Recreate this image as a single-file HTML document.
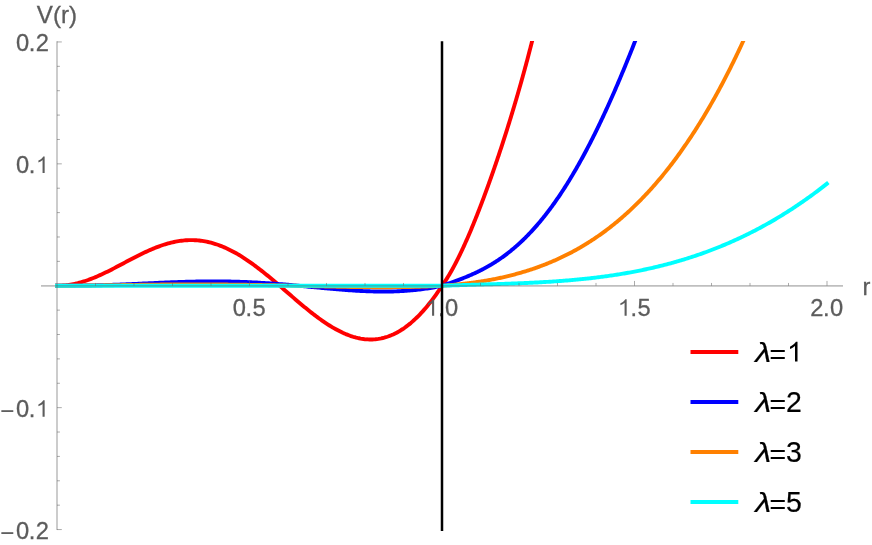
<!DOCTYPE html>
<html><head><meta charset="utf-8"><title>V(r)</title>
<style>html,body{margin:0;padding:0;background:#fff;}svg{display:block;will-change:transform;}</style></head>
<body>
<svg width="872" height="545" viewBox="0 0 872 545">
<defs><clipPath id="c"><rect x="40" y="41" width="805" height="489"/></clipPath></defs>
<g clip-path="url(#c)" fill="none" stroke-width="3.9" stroke-linejoin="round" stroke-linecap="butt">
<path d="M55.10 285.75 L58.54 285.74 L60.02 285.70 L61.50 285.63 L62.98 285.53 L64.46 285.41 L65.94 285.27 L67.42 285.09 L68.90 284.89 L70.38 284.66 L71.86 284.41 L73.35 284.13 L74.83 283.82 L76.31 283.49 L77.79 283.14 L79.27 282.75 L80.75 282.35 L82.23 281.92 L83.71 281.47 L85.19 280.99 L86.67 280.50 L88.15 279.98 L89.63 279.44 L91.11 278.88 L92.59 278.30 L94.07 277.71 L95.55 277.09 L97.03 276.46 L98.51 275.81 L100.00 275.15 L101.48 274.47 L102.96 273.78 L104.44 273.08 L105.92 272.36 L107.40 271.63 L108.88 270.90 L110.36 270.15 L111.84 269.40 L113.32 268.63 L114.80 267.86 L116.28 267.09 L117.76 266.31 L119.24 265.53 L120.72 264.74 L122.20 263.96 L123.68 263.17 L125.16 262.38 L126.64 261.59 L128.13 260.81 L129.61 260.02 L131.09 259.24 L132.57 258.47 L134.05 257.70 L135.53 256.94 L137.01 256.18 L138.49 255.44 L139.97 254.70 L141.45 253.97 L142.93 253.25 L144.41 252.55 L145.89 251.86 L147.37 251.17 L148.85 250.51 L150.33 249.86 L151.81 249.22 L153.29 248.60 L154.78 248.00 L156.26 247.41 L157.74 246.84 L159.22 246.30 L160.70 245.77 L162.18 245.26 L163.66 244.77 L165.14 244.31 L166.62 243.86 L168.10 243.44 L169.58 243.04 L171.06 242.67 L172.54 242.32 L174.02 241.99 L175.50 241.69 L176.98 241.41 L178.46 241.16 L179.94 240.94 L181.42 240.74 L182.91 240.57 L184.39 240.43 L185.87 240.31 L187.35 240.22 L188.83 240.16 L190.31 240.13 L191.79 240.13 L193.27 240.16 L194.75 240.21 L196.23 240.29 L197.71 240.41 L199.19 240.55 L200.67 240.72 L202.15 240.92 L203.63 241.14 L205.11 241.40 L206.59 241.69 L208.07 242.01 L209.56 242.35 L211.04 242.73 L212.52 243.13 L214.00 243.56 L215.48 244.02 L216.96 244.51 L218.44 245.03 L219.92 245.57 L221.40 246.14 L222.88 246.74 L224.36 247.37 L225.84 248.02 L227.32 248.70 L228.80 249.41 L230.28 250.14 L231.76 250.90 L233.24 251.68 L234.72 252.49 L236.20 253.32 L237.69 254.17 L239.17 255.05 L240.65 255.95 L242.13 256.88 L243.61 257.82 L245.09 258.78 L246.57 259.77 L248.05 260.78 L249.53 261.80 L251.01 262.85 L252.49 263.91 L253.97 264.99 L255.45 266.08 L256.93 267.20 L258.41 268.33 L259.89 269.47 L261.37 270.63 L262.85 271.80 L264.34 272.98 L265.82 274.18 L267.30 275.38 L268.78 276.60 L270.26 277.83 L271.74 279.06 L273.22 280.31 L274.70 281.56 L276.18 282.82 L277.66 284.08 L279.14 285.35 L280.62 286.62 L282.10 287.90 L283.58 289.18 L285.06 290.46 L286.54 291.74 L288.02 293.02 L289.50 294.31 L290.98 295.58 L292.47 296.86 L293.95 298.14 L295.43 299.40 L296.91 300.67 L298.39 301.93 L299.87 303.18 L301.35 304.42 L302.83 305.66 L304.31 306.89 L305.79 308.10 L307.27 309.31 L308.75 310.50 L310.23 311.68 L311.71 312.85 L313.19 314.00 L314.67 315.14 L316.15 316.26 L317.63 317.36 L319.12 318.45 L320.60 319.52 L322.08 320.57 L323.56 321.60 L325.04 322.60 L326.52 323.59 L328.00 324.55 L329.48 325.49 L330.96 326.41 L332.44 327.30 L333.92 328.16 L335.40 329.00 L336.88 329.82 L338.36 330.60 L339.84 331.35 L341.32 332.08 L342.80 332.78 L344.28 333.44 L345.76 334.08 L347.25 334.68 L348.73 335.25 L350.21 335.79 L351.69 336.29 L353.17 336.76 L354.65 337.19 L356.13 337.59 L357.61 337.95 L359.09 338.27 L360.57 338.56 L362.05 338.81 L363.53 339.02 L365.01 339.19 L366.49 339.32 L367.97 339.41 L369.45 339.46 L370.93 339.47 L372.41 339.44 L373.90 339.36 L375.38 339.25 L376.86 339.09 L378.34 338.89 L379.82 338.64 L381.30 338.35 L382.78 338.02 L384.26 337.64 L385.74 337.22 L387.22 336.75 L388.70 336.24 L390.18 335.68 L391.66 335.07 L393.14 334.42 L394.62 333.72 L396.10 332.98 L397.58 332.18 L399.06 331.34 L400.54 330.46 L402.03 329.52 L403.51 328.54 L404.99 327.51 L406.47 326.43 L407.95 325.30 L409.43 324.12 L410.91 322.90 L412.39 321.62 L413.87 320.30 L415.35 318.93 L416.83 317.51 L418.31 316.04 L419.79 314.52 L421.27 312.95 L422.75 311.33 L424.23 309.66 L425.71 307.94 L427.19 306.17 L428.68 304.36 L430.16 302.49 L431.64 300.57 L433.12 298.61 L434.60 296.59 L436.08 294.52 L437.56 292.40 L439.04 290.24 L440.52 288.02 L442.00 285.75 L442.32 285.31 L442.64 284.87 L442.97 284.42 L443.29 283.96 L443.61 283.50 L443.93 283.04 L444.25 282.57 L444.58 282.09 L444.90 281.62 L445.22 281.13 L445.54 280.64 L445.86 280.15 L446.18 279.65 L446.51 279.15 L446.83 278.65 L447.15 278.13 L447.47 277.62 L447.79 277.10 L448.12 276.57 L448.44 276.05 L448.76 275.51 L449.08 274.98 L449.40 274.43 L449.73 273.89 L450.05 273.34 L450.37 272.78 L450.69 272.22 L451.01 271.66 L451.34 271.10 L451.66 270.52 L451.98 269.95 L452.30 269.37 L452.62 268.79 L452.94 268.20 L453.27 267.61 L453.59 267.02 L453.91 266.42 L454.23 265.82 L454.55 265.21 L454.88 264.60 L455.20 263.99 L455.52 263.37 L455.84 262.75 L456.16 262.13 L456.49 261.50 L456.81 260.87 L457.13 260.23 L457.45 259.59 L457.77 258.95 L458.10 258.30 L458.42 257.66 L458.74 257.00 L459.06 256.35 L459.38 255.69 L459.70 255.03 L460.03 254.36 L460.35 253.69 L460.67 253.02 L460.99 252.34 L461.31 251.66 L461.64 250.98 L461.96 250.30 L462.28 249.61 L462.60 248.92 L462.92 248.22 L463.25 247.52 L463.57 246.82 L463.89 246.12 L464.21 245.41 L464.53 244.70 L464.86 243.99 L465.18 243.27 L465.50 242.55 L465.82 241.83 L466.14 241.11 L466.46 240.38 L466.79 239.65 L467.11 238.91 L467.43 238.18 L467.75 237.44 L468.07 236.70 L468.40 235.95 L468.72 235.21 L469.04 234.46 L469.36 233.70 L469.68 232.95 L470.01 232.19 L470.33 231.43 L470.65 230.66 L470.97 229.90 L471.29 229.13 L471.62 228.36 L471.94 227.58 L472.26 226.81 L472.58 226.03 L472.90 225.25 L473.22 224.46 L473.55 223.68 L473.87 222.89 L474.19 222.10 L474.51 221.30 L474.83 220.50 L475.16 219.71 L475.48 218.90 L475.80 218.10 L476.12 217.29 L476.44 216.48 L476.77 215.67 L477.09 214.86 L477.41 214.04 L477.73 213.23 L478.05 212.41 L478.38 211.58 L478.70 210.76 L479.02 209.93 L479.34 209.10 L479.66 208.27 L479.98 207.43 L480.31 206.60 L480.63 205.76 L480.95 204.92 L481.27 204.07 L481.59 203.23 L481.92 202.38 L482.24 201.53 L482.56 200.68 L482.88 199.82 L483.20 198.96 L483.53 198.11 L483.85 197.24 L484.17 196.38 L484.49 195.51 L484.81 194.65 L485.14 193.78 L485.46 192.90 L485.78 192.03 L486.10 191.15 L486.42 190.28 L486.74 189.39 L487.07 188.51 L487.39 187.63 L487.71 186.74 L488.03 185.85 L488.35 184.96 L488.68 184.06 L489.00 183.17 L489.32 182.27 L489.64 181.37 L489.96 180.47 L490.29 179.56 L490.61 178.66 L490.93 177.75 L491.25 176.84 L491.57 175.92 L491.90 175.01 L492.22 174.09 L492.54 173.17 L492.86 172.25 L493.18 171.33 L493.51 170.40 L493.83 169.47 L494.15 168.54 L494.47 167.61 L494.79 166.68 L495.11 165.74 L495.44 164.80 L495.76 163.86 L496.08 162.92 L496.40 161.97 L496.72 161.03 L497.05 160.08 L497.37 159.13 L497.69 158.17 L498.01 157.22 L498.33 156.26 L498.66 155.30 L498.98 154.34 L499.30 153.37 L499.62 152.40 L499.94 151.44 L500.27 150.46 L500.59 149.49 L500.91 148.52 L501.23 147.54 L501.55 146.56 L501.87 145.57 L502.20 144.59 L502.52 143.60 L502.84 142.61 L503.16 141.62 L503.48 140.63 L503.81 139.63 L504.13 138.63 L504.45 137.63 L504.77 136.63 L505.09 135.62 L505.42 134.61 L505.74 133.60 L506.06 132.59 L506.38 131.58 L506.70 130.56 L507.03 129.54 L507.35 128.52 L507.67 127.49 L507.99 126.46 L508.31 125.43 L508.63 124.40 L508.96 123.37 L509.28 122.33 L509.60 121.29 L509.92 120.25 L510.24 119.20 L510.57 118.15 L510.89 117.10 L511.21 116.05 L511.53 114.99 L511.85 113.94 L512.18 112.88 L512.50 111.81 L512.82 110.75 L513.14 109.68 L513.46 108.61 L513.79 107.53 L514.11 106.45 L514.43 105.37 L514.75 104.29 L515.07 103.21 L515.39 102.12 L515.72 101.03 L516.04 99.93 L516.36 98.84 L516.68 97.74 L517.00 96.63 L517.33 95.53 L517.65 94.42 L517.97 93.31 L518.29 92.19 L518.61 91.08 L518.94 89.96 L519.26 88.83 L519.58 87.70 L519.90 86.57 L520.22 85.44 L520.55 84.30 L520.87 83.17 L521.19 82.02 L521.51 80.88 L521.83 79.73 L522.15 78.58 L522.48 77.42 L522.80 76.26 L523.12 75.10 L523.44 73.93 L523.76 72.76 L524.09 71.59 L524.41 70.41 L524.73 69.23 L525.05 68.05 L525.37 66.86 L525.70 65.67 L526.02 64.48 L526.34 63.28 L526.66 62.08 L526.98 60.88 L527.31 59.67 L527.63 58.46 L527.95 57.24 L528.27 56.02 L528.59 54.80 L528.91 53.57 L529.24 52.34 L529.56 51.10 L529.88 49.86 L530.20 48.62 L530.52 47.37 L530.85 46.12 L531.17 44.87 L531.49 43.61 L531.81 42.35 L532.13 41.08 L532.46 39.81 L532.78 38.53 L533.10 37.25 L533.42 35.97 L533.74 34.68 L534.07 33.38 L534.39 32.09 L534.71 30.78 L535.03 29.48 L535.35 28.17 L535.67 26.85 L536.00 25.53 L536.32 24.21 L536.64 22.88 L536.96 21.54 L537.28 20.21 L537.61 18.86 L537.93 17.51 L538.25 16.16" stroke="#ff0000"/>
<path d="M55.10 285.75 L58.54 285.75 L60.02 285.75 L61.50 285.75 L62.98 285.74 L64.46 285.74 L65.94 285.74 L67.42 285.73 L68.90 285.72 L70.38 285.72 L71.86 285.71 L73.35 285.70 L74.83 285.68 L76.31 285.67 L77.79 285.66 L79.27 285.64 L80.75 285.62 L82.23 285.60 L83.71 285.58 L85.19 285.56 L86.67 285.53 L88.15 285.51 L89.63 285.48 L91.11 285.45 L92.59 285.42 L94.07 285.39 L95.55 285.35 L97.03 285.31 L98.51 285.28 L100.00 285.24 L101.48 285.20 L102.96 285.15 L104.44 285.11 L105.92 285.06 L107.40 285.02 L108.88 284.97 L110.36 284.92 L111.84 284.87 L113.32 284.81 L114.80 284.76 L116.28 284.71 L117.76 284.65 L119.24 284.59 L120.72 284.53 L122.20 284.47 L123.68 284.41 L125.16 284.35 L126.64 284.29 L128.13 284.23 L129.61 284.16 L131.09 284.10 L132.57 284.03 L134.05 283.96 L135.53 283.90 L137.01 283.83 L138.49 283.76 L139.97 283.70 L141.45 283.63 L142.93 283.56 L144.41 283.49 L145.89 283.42 L147.37 283.35 L148.85 283.29 L150.33 283.22 L151.81 283.15 L153.29 283.08 L154.78 283.01 L156.26 282.95 L157.74 282.88 L159.22 282.82 L160.70 282.75 L162.18 282.69 L163.66 282.62 L165.14 282.56 L166.62 282.50 L168.10 282.44 L169.58 282.38 L171.06 282.32 L172.54 282.26 L174.02 282.20 L175.50 282.15 L176.98 282.10 L178.46 282.04 L179.94 281.99 L181.42 281.94 L182.91 281.90 L184.39 281.85 L185.87 281.81 L187.35 281.77 L188.83 281.73 L190.31 281.69 L191.79 281.65 L193.27 281.62 L194.75 281.59 L196.23 281.56 L197.71 281.53 L199.19 281.50 L200.67 281.48 L202.15 281.46 L203.63 281.44 L205.11 281.42 L206.59 281.41 L208.07 281.40 L209.56 281.39 L211.04 281.38 L212.52 281.38 L214.00 281.38 L215.48 281.38 L216.96 281.39 L218.44 281.39 L219.92 281.40 L221.40 281.42 L222.88 281.43 L224.36 281.45 L225.84 281.47 L227.32 281.50 L228.80 281.52 L230.28 281.55 L231.76 281.58 L233.24 281.62 L234.72 281.66 L236.20 281.70 L237.69 281.74 L239.17 281.79 L240.65 281.84 L242.13 281.89 L243.61 281.95 L245.09 282.01 L246.57 282.07 L248.05 282.13 L249.53 282.20 L251.01 282.27 L252.49 282.34 L253.97 282.41 L255.45 282.49 L256.93 282.57 L258.41 282.65 L259.89 282.74 L261.37 282.83 L262.85 282.92 L264.34 283.01 L265.82 283.11 L267.30 283.21 L268.78 283.31 L270.26 283.41 L271.74 283.51 L273.22 283.62 L274.70 283.73 L276.18 283.84 L277.66 283.96 L279.14 284.07 L280.62 284.19 L282.10 284.31 L283.58 284.43 L285.06 284.55 L286.54 284.68 L288.02 284.80 L289.50 284.93 L290.98 285.06 L292.47 285.19 L293.95 285.32 L295.43 285.46 L296.91 285.59 L298.39 285.73 L299.87 285.86 L301.35 286.00 L302.83 286.14 L304.31 286.27 L305.79 286.41 L307.27 286.55 L308.75 286.69 L310.23 286.83 L311.71 286.97 L313.19 287.11 L314.67 287.25 L316.15 287.39 L317.63 287.53 L319.12 287.67 L320.60 287.81 L322.08 287.95 L323.56 288.09 L325.04 288.22 L326.52 288.36 L328.00 288.49 L329.48 288.63 L330.96 288.76 L332.44 288.89 L333.92 289.02 L335.40 289.15 L336.88 289.27 L338.36 289.40 L339.84 289.52 L341.32 289.64 L342.80 289.75 L344.28 289.87 L345.76 289.98 L347.25 290.09 L348.73 290.20 L350.21 290.30 L351.69 290.40 L353.17 290.50 L354.65 290.59 L356.13 290.68 L357.61 290.77 L359.09 290.85 L360.57 290.93 L362.05 291.01 L363.53 291.08 L365.01 291.15 L366.49 291.21 L367.97 291.27 L369.45 291.32 L370.93 291.37 L372.41 291.41 L373.90 291.45 L375.38 291.48 L376.86 291.51 L378.34 291.54 L379.82 291.55 L381.30 291.56 L382.78 291.57 L384.26 291.57 L385.74 291.56 L387.22 291.55 L388.70 291.53 L390.18 291.50 L391.66 291.47 L393.14 291.43 L394.62 291.39 L396.10 291.33 L397.58 291.27 L399.06 291.21 L400.54 291.13 L402.03 291.05 L403.51 290.96 L404.99 290.87 L406.47 290.76 L407.95 290.65 L409.43 290.53 L410.91 290.40 L412.39 290.27 L413.87 290.12 L415.35 289.97 L416.83 289.81 L418.31 289.64 L419.79 289.46 L421.27 289.28 L422.75 289.08 L424.23 288.88 L425.71 288.67 L427.19 288.45 L428.68 288.22 L430.16 287.98 L431.64 287.73 L433.12 287.48 L434.60 287.21 L436.08 286.94 L437.56 286.65 L439.04 286.36 L440.52 286.06 L442.00 285.75 L442.67 285.52 L443.34 285.30 L444.01 285.07 L444.68 284.84 L445.35 284.61 L446.02 284.38 L446.69 284.15 L447.36 283.92 L448.03 283.69 L448.70 283.46 L449.37 283.23 L450.03 282.99 L450.70 282.76 L451.37 282.52 L452.04 282.29 L452.71 282.05 L453.38 281.81 L454.05 281.57 L454.72 281.33 L455.39 281.09 L456.06 280.84 L456.73 280.60 L457.40 280.35 L458.07 280.10 L458.74 279.85 L459.41 279.60 L460.08 279.34 L460.75 279.09 L461.42 278.83 L462.09 278.57 L462.76 278.31 L463.43 278.04 L464.10 277.78 L464.77 277.51 L465.43 277.24 L466.10 276.96 L466.77 276.69 L467.44 276.41 L468.11 276.13 L468.78 275.85 L469.45 275.56 L470.12 275.27 L470.79 274.98 L471.46 274.69 L472.13 274.39 L472.80 274.09 L473.47 273.79 L474.14 273.48 L474.81 273.17 L475.48 272.86 L476.15 272.55 L476.82 272.23 L477.49 271.91 L478.16 271.58 L478.83 271.25 L479.50 270.92 L480.17 270.59 L480.83 270.25 L481.50 269.91 L482.17 269.56 L482.84 269.21 L483.51 268.86 L484.18 268.50 L484.85 268.14 L485.52 267.78 L486.19 267.41 L486.86 267.04 L487.53 266.66 L488.20 266.28 L488.87 265.90 L489.54 265.51 L490.21 265.11 L490.88 264.72 L491.55 264.32 L492.22 263.91 L492.89 263.50 L493.56 263.09 L494.23 262.67 L494.90 262.25 L495.57 261.82 L496.23 261.39 L496.90 260.95 L497.57 260.51 L498.24 260.07 L498.91 259.62 L499.58 259.16 L500.25 258.70 L500.92 258.24 L501.59 257.77 L502.26 257.29 L502.93 256.81 L503.60 256.33 L504.27 255.84 L504.94 255.35 L505.61 254.85 L506.28 254.34 L506.95 253.83 L507.62 253.32 L508.29 252.80 L508.96 252.28 L509.63 251.75 L510.30 251.21 L510.97 250.67 L511.63 250.12 L512.30 249.57 L512.97 249.01 L513.64 248.45 L514.31 247.88 L514.98 247.31 L515.65 246.73 L516.32 246.15 L516.99 245.56 L517.66 244.96 L518.33 244.36 L519.00 243.75 L519.67 243.14 L520.34 242.52 L521.01 241.90 L521.68 241.27 L522.35 240.63 L523.02 239.99 L523.69 239.34 L524.36 238.69 L525.03 238.03 L525.70 237.36 L526.37 236.69 L527.03 236.01 L527.70 235.33 L528.37 234.64 L529.04 233.94 L529.71 233.24 L530.38 232.53 L531.05 231.82 L531.72 231.10 L532.39 230.37 L533.06 229.64 L533.73 228.90 L534.40 228.16 L535.07 227.40 L535.74 226.65 L536.41 225.88 L537.08 225.11 L537.75 224.34 L538.42 223.55 L539.09 222.76 L539.76 221.97 L540.43 221.17 L541.10 220.36 L541.77 219.54 L542.43 218.72 L543.10 217.89 L543.77 217.06 L544.44 216.22 L545.11 215.37 L545.78 214.52 L546.45 213.65 L547.12 212.79 L547.79 211.91 L548.46 211.03 L549.13 210.15 L549.80 209.25 L550.47 208.35 L551.14 207.45 L551.81 206.53 L552.48 205.61 L553.15 204.69 L553.82 203.75 L554.49 202.81 L555.16 201.86 L555.83 200.91 L556.50 199.95 L557.17 198.98 L557.83 198.01 L558.50 197.03 L559.17 196.04 L559.84 195.05 L560.51 194.05 L561.18 193.04 L561.85 192.03 L562.52 191.00 L563.19 189.98 L563.86 188.94 L564.53 187.90 L565.20 186.85 L565.87 185.80 L566.54 184.74 L567.21 183.67 L567.88 182.59 L568.55 181.51 L569.22 180.42 L569.89 179.32 L570.56 178.22 L571.23 177.11 L571.90 176.00 L572.57 174.87 L573.23 173.74 L573.90 172.61 L574.57 171.46 L575.24 170.31 L575.91 169.16 L576.58 167.99 L577.25 166.82 L577.92 165.64 L578.59 164.46 L579.26 163.27 L579.93 162.07 L580.60 160.87 L581.27 159.65 L581.94 158.44 L582.61 157.21 L583.28 155.98 L583.95 154.74 L584.62 153.50 L585.29 152.24 L585.96 150.99 L586.63 149.72 L587.30 148.45 L587.97 147.17 L588.63 145.88 L589.30 144.59 L589.97 143.29 L590.64 141.99 L591.31 140.67 L591.98 139.36 L592.65 138.03 L593.32 136.70 L593.99 135.36 L594.66 134.01 L595.33 132.66 L596.00 131.30 L596.67 129.94 L597.34 128.57 L598.01 127.19 L598.68 125.80 L599.35 124.41 L600.02 123.01 L600.69 121.61 L601.36 120.20 L602.03 118.78 L602.70 117.36 L603.37 115.93 L604.03 114.49 L604.70 113.05 L605.37 111.60 L606.04 110.15 L606.71 108.68 L607.38 107.22 L608.05 105.74 L608.72 104.26 L609.39 102.77 L610.06 101.28 L610.73 99.78 L611.40 98.28 L612.07 96.76 L612.74 95.25 L613.41 93.72 L614.08 92.19 L614.75 90.66 L615.42 89.11 L616.09 87.56 L616.76 86.01 L617.43 84.45 L618.10 82.88 L618.77 81.31 L619.43 79.73 L620.10 78.15 L620.77 76.56 L621.44 74.96 L622.11 73.36 L622.78 71.76 L623.45 70.14 L624.12 68.52 L624.79 66.90 L625.46 65.27 L626.13 63.63 L626.80 61.99 L627.47 60.35 L628.14 58.69 L628.81 57.04 L629.48 55.37 L630.15 53.70 L630.82 52.03 L631.49 50.35 L632.16 48.66 L632.83 46.97 L633.50 45.28 L634.17 43.58 L634.83 41.87 L635.50 40.16 L636.17 38.44 L636.84 36.72 L637.51 34.99 L638.18 33.26 L638.85 31.52 L639.52 29.78 L640.19 28.04 L640.86 26.28 L641.53 24.53 L642.20 22.77" stroke="#0000ff"/>
<path d="M55.10 285.75 L58.54 285.75 L60.02 285.75 L61.50 285.74 L62.98 285.74 L64.46 285.74 L65.94 285.73 L67.42 285.72 L68.90 285.71 L70.38 285.70 L71.86 285.69 L73.35 285.68 L74.83 285.67 L76.31 285.66 L77.79 285.65 L79.27 285.63 L80.75 285.62 L82.23 285.60 L83.71 285.59 L85.19 285.57 L86.67 285.55 L88.15 285.54 L89.63 285.52 L91.11 285.50 L92.59 285.48 L94.07 285.46 L95.55 285.44 L97.03 285.42 L98.51 285.40 L100.00 285.38 L101.48 285.36 L102.96 285.34 L104.44 285.32 L105.92 285.30 L107.40 285.28 L108.88 285.25 L110.36 285.23 L111.84 285.21 L113.32 285.19 L114.80 285.17 L116.28 285.14 L117.76 285.12 L119.24 285.10 L120.72 285.08 L122.20 285.06 L123.68 285.03 L125.16 285.01 L126.64 284.99 L128.13 284.97 L129.61 284.95 L131.09 284.93 L132.57 284.91 L134.05 284.89 L135.53 284.87 L137.01 284.85 L138.49 284.83 L139.97 284.81 L141.45 284.79 L142.93 284.77 L144.41 284.75 L145.89 284.73 L147.37 284.71 L148.85 284.70 L150.33 284.68 L151.81 284.66 L153.29 284.65 L154.78 284.63 L156.26 284.62 L157.74 284.60 L159.22 284.59 L160.70 284.57 L162.18 284.56 L163.66 284.55 L165.14 284.53 L166.62 284.52 L168.10 284.51 L169.58 284.50 L171.06 284.49 L172.54 284.48 L174.02 284.47 L175.50 284.46 L176.98 284.46 L178.46 284.45 L179.94 284.44 L181.42 284.44 L182.91 284.43 L184.39 284.43 L185.87 284.42 L187.35 284.42 L188.83 284.42 L190.31 284.41 L191.79 284.41 L193.27 284.41 L194.75 284.41 L196.23 284.41 L197.71 284.41 L199.19 284.41 L200.67 284.42 L202.15 284.42 L203.63 284.42 L205.11 284.43 L206.59 284.43 L208.07 284.44 L209.56 284.45 L211.04 284.45 L212.52 284.46 L214.00 284.47 L215.48 284.48 L216.96 284.49 L218.44 284.50 L219.92 284.51 L221.40 284.52 L222.88 284.53 L224.36 284.55 L225.84 284.56 L227.32 284.57 L228.80 284.59 L230.28 284.60 L231.76 284.62 L233.24 284.64 L234.72 284.65 L236.20 284.67 L237.69 284.69 L239.17 284.71 L240.65 284.73 L242.13 284.75 L243.61 284.77 L245.09 284.79 L246.57 284.81 L248.05 284.84 L249.53 284.86 L251.01 284.88 L252.49 284.91 L253.97 284.93 L255.45 284.96 L256.93 284.98 L258.41 285.01 L259.89 285.04 L261.37 285.06 L262.85 285.09 L264.34 285.12 L265.82 285.15 L267.30 285.17 L268.78 285.20 L270.26 285.23 L271.74 285.26 L273.22 285.29 L274.70 285.32 L276.18 285.35 L277.66 285.39 L279.14 285.42 L280.62 285.45 L282.10 285.48 L283.58 285.51 L285.06 285.55 L286.54 285.58 L288.02 285.61 L289.50 285.65 L290.98 285.68 L292.47 285.71 L293.95 285.75 L295.43 285.78 L296.91 285.81 L298.39 285.85 L299.87 285.88 L301.35 285.92 L302.83 285.95 L304.31 285.98 L305.79 286.02 L307.27 286.05 L308.75 286.09 L310.23 286.12 L311.71 286.15 L313.19 286.19 L314.67 286.22 L316.15 286.25 L317.63 286.29 L319.12 286.32 L320.60 286.35 L322.08 286.39 L323.56 286.42 L325.04 286.45 L326.52 286.48 L328.00 286.51 L329.48 286.54 L330.96 286.58 L332.44 286.61 L333.92 286.64 L335.40 286.66 L336.88 286.69 L338.36 286.72 L339.84 286.75 L341.32 286.78 L342.80 286.80 L344.28 286.83 L345.76 286.86 L347.25 286.88 L348.73 286.91 L350.21 286.93 L351.69 286.95 L353.17 286.97 L354.65 286.99 L356.13 287.01 L357.61 287.03 L359.09 287.05 L360.57 287.07 L362.05 287.09 L363.53 287.10 L365.01 287.12 L366.49 287.13 L367.97 287.15 L369.45 287.16 L370.93 287.17 L372.41 287.18 L373.90 287.19 L375.38 287.19 L376.86 287.20 L378.34 287.20 L379.82 287.21 L381.30 287.21 L382.78 287.21 L384.26 287.21 L385.74 287.21 L387.22 287.20 L388.70 287.20 L390.18 287.19 L391.66 287.18 L393.14 287.17 L394.62 287.16 L396.10 287.15 L397.58 287.14 L399.06 287.12 L400.54 287.10 L402.03 287.08 L403.51 287.06 L404.99 287.04 L406.47 287.01 L407.95 286.98 L409.43 286.96 L410.91 286.92 L412.39 286.89 L413.87 286.86 L415.35 286.82 L416.83 286.78 L418.31 286.74 L419.79 286.69 L421.27 286.65 L422.75 286.60 L424.23 286.55 L425.71 286.50 L427.19 286.44 L428.68 286.38 L430.16 286.32 L431.64 286.26 L433.12 286.20 L434.60 286.13 L436.08 286.06 L437.56 285.99 L439.04 285.91 L440.52 285.83 L442.00 285.75 L443.03 285.68 L444.06 285.60 L445.09 285.53 L446.12 285.45 L447.15 285.37 L448.18 285.29 L449.21 285.21 L450.24 285.12 L451.27 285.03 L452.30 284.94 L453.33 284.85 L454.36 284.75 L455.39 284.66 L456.42 284.56 L457.45 284.46 L458.48 284.35 L459.51 284.24 L460.54 284.14 L461.57 284.03 L462.60 283.91 L463.63 283.80 L464.66 283.68 L465.69 283.56 L466.72 283.43 L467.75 283.31 L468.78 283.18 L469.81 283.05 L470.84 282.91 L471.87 282.78 L472.90 282.64 L473.93 282.50 L474.96 282.35 L475.99 282.20 L477.02 282.05 L478.05 281.90 L479.08 281.74 L480.11 281.59 L481.14 281.42 L482.17 281.26 L483.20 281.09 L484.23 280.92 L485.26 280.75 L486.29 280.57 L487.32 280.39 L488.35 280.21 L489.38 280.02 L490.41 279.83 L491.44 279.64 L492.47 279.45 L493.51 279.25 L494.54 279.05 L495.57 278.84 L496.60 278.63 L497.63 278.42 L498.66 278.21 L499.69 277.99 L500.72 277.76 L501.75 277.54 L502.78 277.31 L503.81 277.08 L504.84 276.84 L505.87 276.60 L506.90 276.36 L507.93 276.11 L508.96 275.86 L509.99 275.60 L511.02 275.35 L512.05 275.08 L513.08 274.82 L514.11 274.55 L515.14 274.27 L516.17 273.99 L517.20 273.71 L518.23 273.43 L519.26 273.14 L520.29 272.84 L521.32 272.55 L522.35 272.24 L523.38 271.94 L524.41 271.63 L525.44 271.31 L526.47 270.99 L527.50 270.67 L528.53 270.34 L529.56 270.01 L530.59 269.67 L531.62 269.33 L532.65 268.98 L533.68 268.63 L534.71 268.28 L535.74 267.92 L536.77 267.56 L537.80 267.19 L538.83 266.81 L539.86 266.44 L540.89 266.05 L541.92 265.67 L542.95 265.27 L543.98 264.88 L545.01 264.47 L546.04 264.07 L547.07 263.65 L548.10 263.24 L549.13 262.81 L550.16 262.39 L551.19 261.95 L552.22 261.52 L553.25 261.07 L554.28 260.62 L555.31 260.17 L556.34 259.71 L557.37 259.25 L558.40 258.78 L559.43 258.30 L560.46 257.82 L561.49 257.33 L562.52 256.84 L563.55 256.34 L564.58 255.84 L565.61 255.33 L566.64 254.82 L567.67 254.30 L568.70 253.77 L569.73 253.24 L570.76 252.70 L571.79 252.16 L572.82 251.61 L573.85 251.05 L574.88 250.49 L575.91 249.92 L576.94 249.34 L577.97 248.76 L579.00 248.18 L580.03 247.58 L581.06 246.98 L582.09 246.38 L583.12 245.76 L584.15 245.14 L585.18 244.52 L586.21 243.89 L587.24 243.25 L588.27 242.60 L589.30 241.95 L590.33 241.29 L591.36 240.63 L592.39 239.95 L593.42 239.28 L594.45 238.59 L595.48 237.90 L596.52 237.20 L597.55 236.49 L598.58 235.77 L599.61 235.05 L600.64 234.32 L601.67 233.59 L602.70 232.85 L603.73 232.10 L604.76 231.34 L605.79 230.57 L606.82 229.80 L607.85 229.02 L608.88 228.23 L609.91 227.44 L610.94 226.63 L611.97 225.82 L613.00 225.01 L614.03 224.18 L615.06 223.35 L616.09 222.50 L617.12 221.65 L618.15 220.80 L619.18 219.93 L620.21 219.06 L621.24 218.18 L622.27 217.29 L623.30 216.39 L624.33 215.48 L625.36 214.57 L626.39 213.64 L627.42 212.71 L628.45 211.77 L629.48 210.82 L630.51 209.86 L631.54 208.90 L632.57 207.92 L633.60 206.94 L634.63 205.95 L635.66 204.95 L636.69 203.94 L637.72 202.92 L638.75 201.89 L639.78 200.85 L640.81 199.81 L641.84 198.75 L642.87 197.69 L643.90 196.62 L644.93 195.53 L645.96 194.44 L646.99 193.34 L648.02 192.23 L649.05 191.11 L650.08 189.98 L651.11 188.84 L652.14 187.69 L653.17 186.53 L654.20 185.36 L655.23 184.18 L656.26 182.99 L657.29 181.80 L658.32 180.59 L659.35 179.37 L660.38 178.14 L661.41 176.90 L662.44 175.65 L663.47 174.39 L664.50 173.13 L665.53 171.85 L666.56 170.56 L667.59 169.25 L668.62 167.94 L669.65 166.62 L670.68 165.29 L671.71 163.95 L672.74 162.59 L673.77 161.23 L674.80 159.85 L675.83 158.47 L676.86 157.07 L677.89 155.66 L678.92 154.24 L679.95 152.81 L680.98 151.37 L682.01 149.91 L683.04 148.45 L684.07 146.97 L685.10 145.48 L686.13 143.99 L687.16 142.48 L688.19 140.95 L689.22 139.42 L690.25 137.87 L691.28 136.32 L692.31 134.75 L693.34 133.17 L694.37 131.57 L695.40 129.97 L696.43 128.35 L697.46 126.72 L698.49 125.08 L699.53 123.42 L700.56 121.76 L701.59 120.08 L702.62 118.39 L703.65 116.68 L704.68 114.97 L705.71 113.24 L706.74 111.50 L707.77 109.74 L708.80 107.97 L709.83 106.19 L710.86 104.40 L711.89 102.59 L712.92 100.78 L713.95 98.94 L714.98 97.10 L716.01 95.24 L717.04 93.37 L718.07 91.48 L719.10 89.58 L720.13 87.67 L721.16 85.74 L722.19 83.80 L723.22 81.85 L724.25 79.88 L725.28 77.90 L726.31 75.91 L727.34 73.90 L728.37 71.87 L729.40 69.84 L730.43 67.78 L731.46 65.72 L732.49 63.64 L733.52 61.54 L734.55 59.44 L735.58 57.31 L736.61 55.17 L737.64 53.02 L738.67 50.85 L739.70 48.67 L740.73 46.48 L741.76 44.26 L742.79 42.04 L743.82 39.80 L744.85 37.54 L745.88 35.27 L746.91 32.98 L747.94 30.68 L748.97 28.36 L750.00 26.03" stroke="#ff8000"/>
<path d="M55.10 285.75 L58.54 285.75 L442.00 285.75 L443.29 285.70 L444.58 285.65 L445.88 285.61 L447.17 285.56 L448.46 285.52 L449.75 285.47 L451.04 285.43 L452.34 285.39 L453.63 285.34 L454.92 285.30 L456.21 285.26 L457.51 285.22 L458.80 285.18 L460.09 285.14 L461.38 285.10 L462.67 285.06 L463.97 285.02 L465.26 284.98 L466.55 284.94 L467.84 284.91 L469.13 284.87 L470.43 284.83 L471.72 284.79 L473.01 284.76 L474.30 284.72 L475.60 284.68 L476.89 284.65 L478.18 284.61 L479.47 284.57 L480.76 284.53 L482.06 284.50 L483.35 284.46 L484.64 284.42 L485.93 284.39 L487.22 284.35 L488.52 284.31 L489.81 284.27 L491.10 284.23 L492.39 284.20 L493.69 284.16 L494.98 284.12 L496.27 284.08 L497.56 284.04 L498.85 284.00 L500.15 283.96 L501.44 283.92 L502.73 283.87 L504.02 283.83 L505.31 283.79 L506.61 283.74 L507.90 283.70 L509.19 283.65 L510.48 283.61 L511.78 283.56 L513.07 283.51 L514.36 283.47 L515.65 283.42 L516.94 283.37 L518.24 283.32 L519.53 283.27 L520.82 283.21 L522.11 283.16 L523.40 283.11 L524.70 283.05 L525.99 282.99 L527.28 282.94 L528.57 282.88 L529.86 282.82 L531.16 282.76 L532.45 282.69 L533.74 282.63 L535.03 282.57 L536.33 282.50 L537.62 282.43 L538.91 282.36 L540.20 282.29 L541.49 282.22 L542.79 282.15 L544.08 282.07 L545.37 282.00 L546.66 281.92 L547.95 281.84 L549.25 281.76 L550.54 281.68 L551.83 281.60 L553.12 281.51 L554.42 281.42 L555.71 281.33 L557.00 281.24 L558.29 281.15 L559.58 281.06 L560.88 280.96 L562.17 280.86 L563.46 280.76 L564.75 280.66 L566.04 280.56 L567.34 280.45 L568.63 280.35 L569.92 280.24 L571.21 280.13 L572.51 280.01 L573.80 279.90 L575.09 279.78 L576.38 279.66 L577.67 279.54 L578.97 279.41 L580.26 279.29 L581.55 279.16 L582.84 279.03 L584.13 278.89 L585.43 278.76 L586.72 278.62 L588.01 278.48 L589.30 278.33 L590.60 278.19 L591.89 278.04 L593.18 277.89 L594.47 277.74 L595.76 277.58 L597.06 277.42 L598.35 277.26 L599.64 277.10 L600.93 276.93 L602.22 276.77 L603.52 276.59 L604.81 276.42 L606.10 276.24 L607.39 276.06 L608.69 275.88 L609.98 275.69 L611.27 275.51 L612.56 275.31 L613.85 275.12 L615.15 274.92 L616.44 274.72 L617.73 274.52 L619.02 274.31 L620.31 274.10 L621.61 273.89 L622.90 273.68 L624.19 273.46 L625.48 273.24 L626.77 273.01 L628.07 272.78 L629.36 272.55 L630.65 272.32 L631.94 272.08 L633.24 271.84 L634.53 271.59 L635.82 271.34 L637.11 271.09 L638.40 270.84 L639.70 270.58 L640.99 270.32 L642.28 270.05 L643.57 269.78 L644.86 269.51 L646.16 269.23 L647.45 268.95 L648.74 268.67 L650.03 268.38 L651.33 268.09 L652.62 267.80 L653.91 267.50 L655.20 267.20 L656.49 266.89 L657.79 266.58 L659.08 266.27 L660.37 265.95 L661.66 265.63 L662.95 265.30 L664.25 264.98 L665.54 264.64 L666.83 264.30 L668.12 263.96 L669.42 263.62 L670.71 263.27 L672.00 262.92 L673.29 262.56 L674.58 262.20 L675.88 261.83 L677.17 261.46 L678.46 261.09 L679.75 260.71 L681.04 260.33 L682.34 259.94 L683.63 259.55 L684.92 259.15 L686.21 258.75 L687.51 258.35 L688.80 257.94 L690.09 257.52 L691.38 257.11 L692.67 256.68 L693.97 256.26 L695.26 255.83 L696.55 255.39 L697.84 254.95 L699.13 254.50 L700.43 254.05 L701.72 253.60 L703.01 253.14 L704.30 252.68 L705.59 252.21 L706.89 251.73 L708.18 251.26 L709.47 250.77 L710.76 250.28 L712.06 249.79 L713.35 249.29 L714.64 248.79 L715.93 248.28 L717.22 247.77 L718.52 247.25 L719.81 246.73 L721.10 246.20 L722.39 245.67 L723.68 245.13 L724.98 244.59 L726.27 244.04 L727.56 243.49 L728.85 242.93 L730.15 242.37 L731.44 241.80 L732.73 241.23 L734.02 240.65 L735.31 240.06 L736.61 239.47 L737.90 238.88 L739.19 238.28 L740.48 237.67 L741.77 237.06 L743.07 236.45 L744.36 235.82 L745.65 235.20 L746.94 234.56 L748.24 233.92 L749.53 233.28 L750.82 232.63 L752.11 231.98 L753.40 231.31 L754.70 230.65 L755.99 229.98 L757.28 229.30 L758.57 228.61 L759.86 227.93 L761.16 227.23 L762.45 226.53 L763.74 225.82 L765.03 225.11 L766.33 224.39 L767.62 223.67 L768.91 222.94 L770.20 222.20 L771.49 221.46 L772.79 220.71 L774.08 219.96 L775.37 219.20 L776.66 218.43 L777.95 217.66 L779.25 216.88 L780.54 216.10 L781.83 215.31 L783.12 214.51 L784.42 213.71 L785.71 212.90 L787.00 212.09 L788.29 211.27 L789.58 210.44 L790.88 209.60 L792.17 208.76 L793.46 207.92 L794.75 207.07 L796.04 206.21 L797.34 205.34 L798.63 204.47 L799.92 203.59 L801.21 202.71 L802.50 201.82 L803.80 200.92 L805.09 200.01 L806.38 199.10 L807.67 198.19 L808.97 197.26 L810.26 196.33 L811.55 195.40 L812.84 194.45 L814.13 193.50 L815.43 192.54 L816.72 191.58 L818.01 190.61 L819.30 189.63 L820.59 188.65 L821.89 187.66 L823.18 186.66 L824.47 185.66 L825.76 184.65 L827.06 183.63 L828.35 182.60" stroke="#00ffff"/>
</g>
<g stroke="#666666" stroke-opacity="0.42" fill="none">
<line x1="41" y1="285.85" x2="843" y2="285.85" stroke-width="1.6"/>
<line x1="57.00" y1="41.2" x2="57.00" y2="530" stroke-width="1.6"/>
</g>
<g stroke="#666666" stroke-opacity="0.55" fill="none" stroke-width="1">
<line x1="95.50" y1="285.75" x2="95.50" y2="282.95"/>
<line x1="134.00" y1="285.75" x2="134.00" y2="282.95"/>
<line x1="172.50" y1="285.75" x2="172.50" y2="282.95"/>
<line x1="211.00" y1="285.75" x2="211.00" y2="282.95"/>
<line x1="249.50" y1="285.75" x2="249.50" y2="280.95"/>
<line x1="288.00" y1="285.75" x2="288.00" y2="282.95"/>
<line x1="326.50" y1="285.75" x2="326.50" y2="282.95"/>
<line x1="365.00" y1="285.75" x2="365.00" y2="282.95"/>
<line x1="403.50" y1="285.75" x2="403.50" y2="282.95"/>
<line x1="442.00" y1="285.75" x2="442.00" y2="280.95"/>
<line x1="480.50" y1="285.75" x2="480.50" y2="282.95"/>
<line x1="519.00" y1="285.75" x2="519.00" y2="282.95"/>
<line x1="557.50" y1="285.75" x2="557.50" y2="282.95"/>
<line x1="596.00" y1="285.75" x2="596.00" y2="282.95"/>
<line x1="634.50" y1="285.75" x2="634.50" y2="280.95"/>
<line x1="673.00" y1="285.75" x2="673.00" y2="282.95"/>
<line x1="711.50" y1="285.75" x2="711.50" y2="282.95"/>
<line x1="750.00" y1="285.75" x2="750.00" y2="282.95"/>
<line x1="788.50" y1="285.75" x2="788.50" y2="282.95"/>
<line x1="827.00" y1="285.75" x2="827.00" y2="280.95"/>
<line x1="57.00" y1="529.55" x2="61.80" y2="529.55"/>
<line x1="57.00" y1="505.17" x2="59.90" y2="505.17"/>
<line x1="57.00" y1="480.79" x2="59.90" y2="480.79"/>
<line x1="57.00" y1="456.41" x2="59.90" y2="456.41"/>
<line x1="57.00" y1="432.03" x2="59.90" y2="432.03"/>
<line x1="57.00" y1="407.65" x2="61.80" y2="407.65"/>
<line x1="57.00" y1="383.27" x2="59.90" y2="383.27"/>
<line x1="57.00" y1="358.89" x2="59.90" y2="358.89"/>
<line x1="57.00" y1="334.51" x2="59.90" y2="334.51"/>
<line x1="57.00" y1="310.13" x2="59.90" y2="310.13"/>
<line x1="57.00" y1="261.37" x2="59.90" y2="261.37"/>
<line x1="57.00" y1="236.99" x2="59.90" y2="236.99"/>
<line x1="57.00" y1="212.61" x2="59.90" y2="212.61"/>
<line x1="57.00" y1="188.23" x2="59.90" y2="188.23"/>
<line x1="57.00" y1="163.85" x2="61.80" y2="163.85"/>
<line x1="57.00" y1="139.47" x2="59.90" y2="139.47"/>
<line x1="57.00" y1="115.09" x2="59.90" y2="115.09"/>
<line x1="57.00" y1="90.71" x2="59.90" y2="90.71"/>
<line x1="57.00" y1="66.33" x2="59.90" y2="66.33"/>
<line x1="57.00" y1="41.95" x2="61.80" y2="41.95"/>
</g>
<g font-family="Liberation Sans, sans-serif">
<text transform="translate(232.83 315.80) scale(1.000 1)" font-size="23.70" fill="#5c5c5c" stroke="#5c5c5c" stroke-width="0.30">0</text><text transform="translate(245.51 315.80) scale(1.000 1)" font-size="23.70" fill="#5c5c5c" stroke="#5c5c5c" stroke-width="0.30">.</text><text transform="translate(252.59 315.80) scale(1.000 1)" font-size="23.70" fill="#5c5c5c" stroke="#5c5c5c" stroke-width="0.30">5</text>
<path transform="translate(425.33 315.80) scale(0.01157 0.01128)" d="M763 0H583V-1147Q518 -1085 412.5 -1023Q307 -961 223 -930V-1104Q374 -1175 487 -1276Q600 -1377 647 -1472H763Z" fill="#5c5c5c"/><text transform="translate(438.01 315.80) scale(1.000 1)" font-size="23.70" fill="#5c5c5c" stroke="#5c5c5c" stroke-width="0.30">.</text><text transform="translate(445.09 315.80) scale(1.000 1)" font-size="23.70" fill="#5c5c5c" stroke="#5c5c5c" stroke-width="0.30">0</text>
<path transform="translate(617.83 315.80) scale(0.01157 0.01128)" d="M763 0H583V-1147Q518 -1085 412.5 -1023Q307 -961 223 -930V-1104Q374 -1175 487 -1276Q600 -1377 647 -1472H763Z" fill="#5c5c5c"/><text transform="translate(630.51 315.80) scale(1.000 1)" font-size="23.70" fill="#5c5c5c" stroke="#5c5c5c" stroke-width="0.30">.</text><text transform="translate(637.59 315.80) scale(1.000 1)" font-size="23.70" fill="#5c5c5c" stroke="#5c5c5c" stroke-width="0.30">5</text>
<text transform="translate(810.33 315.80) scale(1.000 1)" font-size="23.70" fill="#5c5c5c" stroke="#5c5c5c" stroke-width="0.30">2</text><text transform="translate(823.01 315.80) scale(1.000 1)" font-size="23.70" fill="#5c5c5c" stroke="#5c5c5c" stroke-width="0.30">.</text><text transform="translate(830.09 315.80) scale(1.000 1)" font-size="23.70" fill="#5c5c5c" stroke="#5c5c5c" stroke-width="0.30">0</text>
<text transform="translate(16.05 51.15) scale(1.000 1)" font-size="23.70" fill="#5c5c5c" stroke="#5c5c5c" stroke-width="0.30">0</text><text transform="translate(28.73 51.15) scale(1.000 1)" font-size="23.70" fill="#5c5c5c" stroke="#5c5c5c" stroke-width="0.30">.</text><text transform="translate(35.82 51.15) scale(1.000 1)" font-size="23.70" fill="#5c5c5c" stroke="#5c5c5c" stroke-width="0.30">2</text>
<text transform="translate(16.05 173.05) scale(1.000 1)" font-size="23.70" fill="#5c5c5c" stroke="#5c5c5c" stroke-width="0.30">0</text><text transform="translate(28.73 173.05) scale(1.000 1)" font-size="23.70" fill="#5c5c5c" stroke="#5c5c5c" stroke-width="0.30">.</text><path transform="translate(35.82 173.05) scale(0.01157 0.01128)" d="M763 0H583V-1147Q518 -1085 412.5 -1023Q307 -961 223 -930V-1104Q374 -1175 487 -1276Q600 -1377 647 -1472H763Z" fill="#5c5c5c"/>
<text transform="translate(0.41 418.65) scale(1.000 1)" font-size="23.70" fill="#5c5c5c" stroke="#5c5c5c" stroke-width="0.30">−</text><text transform="translate(16.05 416.85) scale(1.000 1)" font-size="23.70" fill="#5c5c5c" stroke="#5c5c5c" stroke-width="0.30">0</text><text transform="translate(28.73 416.85) scale(1.000 1)" font-size="23.70" fill="#5c5c5c" stroke="#5c5c5c" stroke-width="0.30">.</text><path transform="translate(35.82 416.85) scale(0.01157 0.01128)" d="M763 0H583V-1147Q518 -1085 412.5 -1023Q307 -961 223 -930V-1104Q374 -1175 487 -1276Q600 -1377 647 -1472H763Z" fill="#5c5c5c"/>
<text transform="translate(0.41 540.55) scale(1.000 1)" font-size="23.70" fill="#5c5c5c" stroke="#5c5c5c" stroke-width="0.30">−</text><text transform="translate(16.05 538.75) scale(1.000 1)" font-size="23.70" fill="#5c5c5c" stroke="#5c5c5c" stroke-width="0.30">0</text><text transform="translate(28.73 538.75) scale(1.000 1)" font-size="23.70" fill="#5c5c5c" stroke="#5c5c5c" stroke-width="0.30">.</text><text transform="translate(35.82 538.75) scale(1.000 1)" font-size="23.70" fill="#5c5c5c" stroke="#5c5c5c" stroke-width="0.30">2</text>
<text transform="translate(36.80 22.60) scale(1.020 1)" font-size="23.70" fill="#5c5c5c" stroke="#5c5c5c" stroke-width="0.30">V</text><text transform="translate(52.92 22.60) scale(1.020 1)" font-size="23.70" fill="#5c5c5c" stroke="#5c5c5c" stroke-width="0.30">(</text><text transform="translate(60.97 22.60) scale(1.020 1)" font-size="23.70" fill="#5c5c5c" stroke="#5c5c5c" stroke-width="0.30">r</text><text transform="translate(69.02 22.60) scale(1.020 1)" font-size="23.70" fill="#5c5c5c" stroke="#5c5c5c" stroke-width="0.30">)</text>
<text transform="translate(862.60 295.00) scale(1.000 1)" font-size="23.70" fill="#5c5c5c" stroke="#5c5c5c" stroke-width="0.30">r</text>
</g>
<line x1="442.0" y1="41.2" x2="442.0" y2="530.9" stroke="#000" stroke-width="2.5"/>
<g font-family="Liberation Sans, sans-serif">
<line x1="690.5" y1="352.0" x2="738.3" y2="352.0" stroke="#ff0000" stroke-width="4"/>
<text transform="translate(755.20 361.60) scale(1.15 1)" font-size="28.2" font-style="italic" fill="#000" stroke="#000" stroke-width="0.2">λ</text>
<text transform="translate(769.60 364.00) scale(1.000 1)" font-size="28.50" fill="#000" stroke="#000" stroke-width="0.20">=</text>
<path transform="translate(786.90 361.60) scale(0.01390 0.01353)" d="M763 0H583V-1147Q518 -1085 412.5 -1023Q307 -961 223 -930V-1104Q374 -1175 487 -1276Q600 -1377 647 -1472H763Z" fill="#000"/>
<line x1="690.5" y1="402.0" x2="738.3" y2="402.0" stroke="#0000ff" stroke-width="4"/>
<text transform="translate(755.20 411.60) scale(1.15 1)" font-size="28.2" font-style="italic" fill="#000" stroke="#000" stroke-width="0.2">λ</text>
<text transform="translate(769.60 414.00) scale(1.000 1)" font-size="28.50" fill="#000" stroke="#000" stroke-width="0.20">=</text>
<text transform="translate(786.00 411.60) scale(0.955 1)" font-size="29.80" fill="#000" stroke="#000" stroke-width="0.20">2</text>
<line x1="690.5" y1="452.0" x2="738.3" y2="452.0" stroke="#ff8000" stroke-width="4"/>
<text transform="translate(755.20 461.60) scale(1.15 1)" font-size="28.2" font-style="italic" fill="#000" stroke="#000" stroke-width="0.2">λ</text>
<text transform="translate(769.60 464.00) scale(1.000 1)" font-size="28.50" fill="#000" stroke="#000" stroke-width="0.20">=</text>
<text transform="translate(786.00 461.60) scale(0.955 1)" font-size="29.80" fill="#000" stroke="#000" stroke-width="0.20">3</text>
<line x1="690.5" y1="502.0" x2="738.3" y2="502.0" stroke="#00ffff" stroke-width="4"/>
<text transform="translate(755.20 511.60) scale(1.15 1)" font-size="28.2" font-style="italic" fill="#000" stroke="#000" stroke-width="0.2">λ</text>
<text transform="translate(769.60 514.00) scale(1.000 1)" font-size="28.50" fill="#000" stroke="#000" stroke-width="0.20">=</text>
<text transform="translate(786.00 511.60) scale(0.955 1)" font-size="29.80" fill="#000" stroke="#000" stroke-width="0.20">5</text>
</g>
</svg>
</body></html>
